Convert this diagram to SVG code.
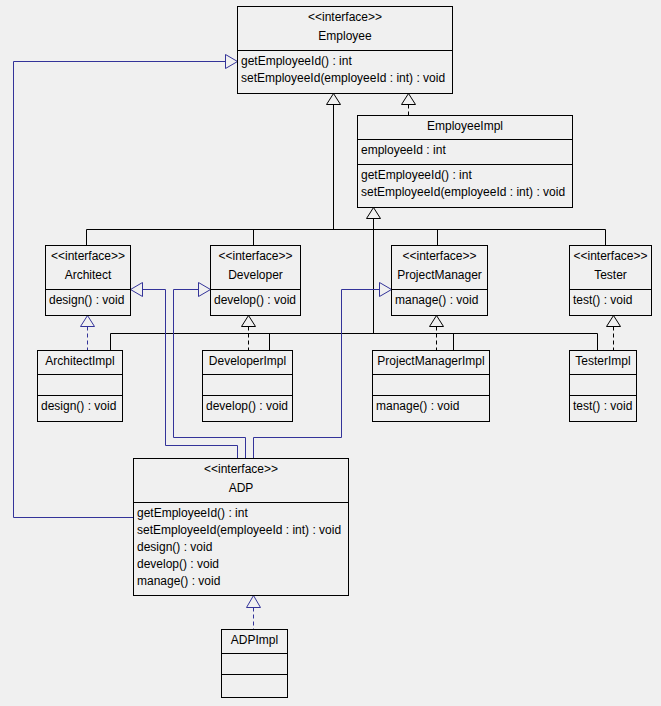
<svg xmlns="http://www.w3.org/2000/svg" width="661" height="706" viewBox="0 0 661 706">
<style>
.box{fill:#f0f0f0;stroke:#000;stroke-width:1}
.ln{fill:none;stroke:#000;stroke-width:1}
.bl{fill:none;stroke:#333399;stroke-width:1}
.dash{stroke-dasharray:4,3}
.tri{fill:#f0f0f0;stroke:#000;stroke-width:1}
.trib{fill:#f0f0f0;stroke:#333399;stroke-width:1}
text{font-family:"Liberation Sans",Arial,sans-serif;font-size:12px;fill:#000}
.c{text-anchor:middle}
</style>
<rect width="661" height="706" fill="#f0f0f0"/>
<g id="connectors">
  <!-- generalizations to Employee -->
  <path class="ln" d="M333.5,104.5V229.5M86.5,229.5H605.5M86.5,229.5V245.5M253.5,229.5V245.5M437.5,229.5V245.5M605.5,229.5V245.5"/>
  <polygon class="tri" points="333.5,93.5 326.5,104.5 340.5,104.5"/>
  <path class="ln dash" d="M408.5,104.5V115.5"/>
  <polygon class="tri" points="408.5,93.5 401.5,104.5 415.5,104.5"/>
  <!-- generalizations to EmployeeImpl -->
  <path class="ln" d="M373.5,218.5V333.5M110.5,333.5H597.5M110.5,333.5V350.5M269.5,333.5V350.5M453.5,333.5V350.5M597.5,333.5V350.5"/>
  <polygon class="tri" points="373.5,207.5 366.5,218.5 380.5,218.5"/>
  <!-- realizations -->
  <path class="bl dash" d="M87.5,326.5V350.5"/>
  <polygon class="trib" points="87.5,315.5 80.5,326.5 94.5,326.5"/>
  <path class="ln dash" d="M248.5,326.5V350.5M436.5,326.5V350.5M613.5,326.5V350.5"/>
  <polygon class="tri" points="248.5,315.5 241.5,326.5 255.5,326.5"/>
  <polygon class="tri" points="436.5,315.5 429.5,326.5 443.5,326.5"/>
  <polygon class="tri" points="613.5,315.5 606.5,326.5 620.5,326.5"/>
  <path class="bl dash" d="M253.5,607.5V629.5"/>
  <polygon class="trib" points="253.5,595.5 246.5,607.5 260.5,607.5"/>
  <!-- ADP extends -->
  <path class="bl" d="M133.5,517.5H13.5V61.5H225.5"/>
  <polygon class="trib" points="237.5,61.5 225.5,54.5 225.5,68.5"/>
  <path class="bl" d="M237.5,458.5V445.5H165.5V289.5H142.5"/>
  <polygon class="trib" points="130.5,289.5 142.5,282.5 142.5,296.5"/>
  <path class="bl" d="M245.5,458.5V437.5H173.5V289.5H198.5"/>
  <polygon class="trib" points="210.5,289.5 198.5,282.5 198.5,296.5"/>
  <path class="bl" d="M253.5,458.5V437.5H341.5V289.5H379.5"/>
  <polygon class="trib" points="391.5,289.5 379.5,282.5 379.5,296.5"/>
</g>
<g id="Employee">
  <rect class="box" x="237.5" y="6.5" width="215" height="87"/>
  <path class="ln" d="M237.5,50.5H452.5"/>
  <text class="c" x="345" y="21">&lt;&lt;interface&gt;&gt;</text>
  <text class="c" x="345" y="40">Employee</text>
  <text x="241" y="65">getEmployeeId() : int</text>
  <text x="241" y="82">setEmployeeId(employeeId : int) : void</text>
</g>
<g id="EmployeeImpl">
  <rect class="box" x="357.5" y="115.5" width="215" height="92"/>
  <path class="ln" d="M357.5,139.5H572.5M357.5,164.5H572.5"/>
  <text class="c" x="465" y="130">EmployeeImpl</text>
  <text x="361" y="154">employeeId : int</text>
  <text x="361" y="179">getEmployeeId() : int</text>
  <text x="361" y="196">setEmployeeId(employeeId : int) : void</text>
</g>
<g id="Architect">
  <rect class="box" x="45.5" y="245.5" width="85" height="70"/>
  <path class="ln" d="M45.5,289.5H130.5"/>
  <text class="c" x="88" y="260">&lt;&lt;interface&gt;&gt;</text>
  <text class="c" x="88" y="279">Architect</text>
  <text x="49" y="304">design() : void</text>
</g>
<g id="Developer">
  <rect class="box" x="210.5" y="245.5" width="90" height="70"/>
  <path class="ln" d="M210.5,289.5H300.5"/>
  <text class="c" x="255.5" y="260">&lt;&lt;interface&gt;&gt;</text>
  <text class="c" x="255.5" y="279">Developer</text>
  <text x="214" y="304">develop() : void</text>
</g>
<g id="ProjectManager">
  <rect class="box" x="391.5" y="245.5" width="96" height="70"/>
  <path class="ln" d="M391.5,289.5H487.5"/>
  <text class="c" x="439.5" y="260">&lt;&lt;interface&gt;&gt;</text>
  <text class="c" x="439.5" y="279">ProjectManager</text>
  <text x="395" y="304">manage() : void</text>
</g>
<g id="Tester">
  <rect class="box" x="569.5" y="245.5" width="82" height="70"/>
  <path class="ln" d="M569.5,289.5H651.5"/>
  <text class="c" x="610.5" y="260">&lt;&lt;interface&gt;&gt;</text>
  <text class="c" x="610.5" y="279">Tester</text>
  <text x="573" y="304">test() : void</text>
</g>
<g id="ArchitectImpl">
  <rect class="box" x="37.5" y="350.5" width="85" height="71"/>
  <path class="ln" d="M37.5,374.5H122.5M37.5,395.5H122.5"/>
  <text class="c" x="80" y="364.5">ArchitectImpl</text>
  <text x="41" y="410">design() : void</text>
</g>
<g id="DeveloperImpl">
  <rect class="box" x="202.5" y="350.5" width="90" height="71"/>
  <path class="ln" d="M202.5,374.5H292.5M202.5,395.5H292.5"/>
  <text class="c" x="247.5" y="364.5">DeveloperImpl</text>
  <text x="206" y="410">develop() : void</text>
</g>
<g id="ProjectManagerImpl">
  <rect class="box" x="372.5" y="350.5" width="117" height="71"/>
  <path class="ln" d="M372.5,374.5H489.5M372.5,395.5H489.5"/>
  <text class="c" x="431" y="364.5">ProjectManagerImpl</text>
  <text x="376" y="410">manage() : void</text>
</g>
<g id="TesterImpl">
  <rect class="box" x="569.5" y="350.5" width="67" height="71"/>
  <path class="ln" d="M569.5,374.5H636.5M569.5,395.5H636.5"/>
  <text class="c" x="603" y="364.5">TesterImpl</text>
  <text x="573" y="410">test() : void</text>
</g>
<g id="ADP">
  <rect class="box" x="133.5" y="458.5" width="215" height="137"/>
  <path class="ln" d="M133.5,502.5H348.5"/>
  <text class="c" x="241" y="473">&lt;&lt;interface&gt;&gt;</text>
  <text class="c" x="241" y="492">ADP</text>
  <text x="137" y="517">getEmployeeId() : int</text>
  <text x="137" y="534">setEmployeeId(employeeId : int) : void</text>
  <text x="137" y="551">design() : void</text>
  <text x="137" y="568">develop() : void</text>
  <text x="137" y="585">manage() : void</text>
</g>
<g id="ADPImpl">
  <rect class="box" x="221.5" y="629.5" width="66" height="68"/>
  <path class="ln" d="M221.5,653.5H287.5M221.5,674.5H287.5"/>
  <text class="c" x="254.5" y="643.5">ADPImpl</text>
</g>
</svg>
